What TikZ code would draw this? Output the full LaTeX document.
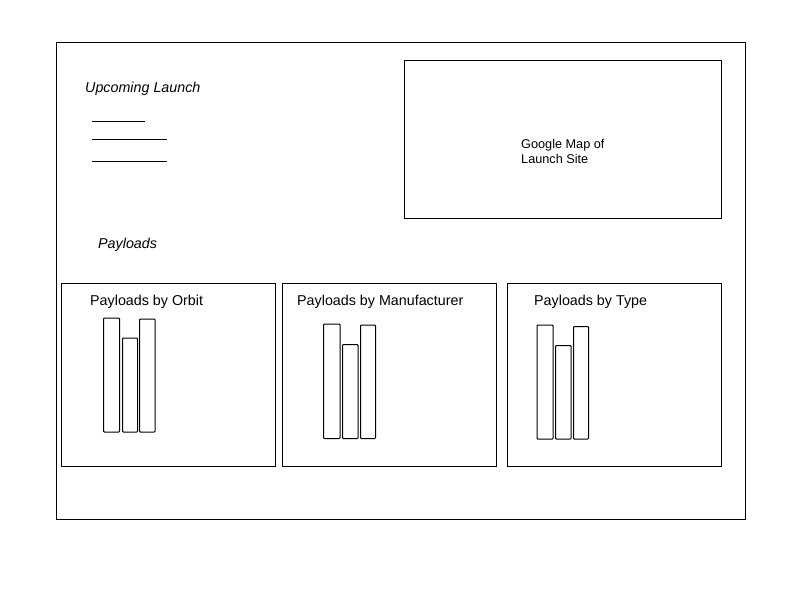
\documentclass[tikz,border=0pt]{standalone}
\usepackage{fontspec}
\setmainfont{Liberation Sans}
\begin{document}
\begin{tikzpicture}[x=1pt,y=-1pt,
  frame/.style={draw=black,line width=1pt},
  bar/.style={draw=black,line width=1pt,rounded corners=0.8pt},
  lbl/.style={anchor=base west,inner sep=0pt,font=\fontsize{14.3}{17}\selectfont},
  ilbl/.style={lbl,font=\fontsize{14.3}{17}\selectfont\itshape},
  maptxt/.style={anchor=base west,inner sep=0pt,align=left,font=\fontsize{12.7}{15}\selectfont}]
\useasboundingbox (0,0) rectangle (800,600);
\fill[white] (0,0) rectangle (800,600);
% outer frame
\draw[frame] (56,42) rectangle (745,519);
% upcoming launch
\node[ilbl] (up) at (85,92) {Upcoming Launch};
\draw[line width=1pt] (92,121) -- (145,121);
\draw[line width=1pt] (92,139) -- (167,139);
\draw[line width=1pt] (92,161) -- (167,161);
% map
\draw[frame] (404,60) rectangle (721,218);
\node[maptxt] (map1) at (521,148) {Google Map of};
\node[maptxt] (map2) at (521,163) {Launch Site};
% payloads
\node[ilbl] (pay) at (98,248) {Payloads};
% panels
\draw[frame] (61,283) rectangle (275,466);
\draw[frame] (282,283) rectangle (496,466);
\draw[frame] (507,283) rectangle (721,466);
\node[lbl] (t1) at (90,305) {Payloads by Orbit};
\node[lbl] (t2) at (297,305) {Payloads by Manufacturer};
\node[lbl] (t3) at (534,305) {Payloads by Type};
% bars panel 1
\draw[bar] (103.5,318) rectangle (119.5,432);
\draw[bar] (122.5,338) rectangle (137.5,432);
\draw[bar] (139.5,319) rectangle (155,432);
% bars panel 2
\draw[bar] (323.5,324) rectangle (340,438.5);
\draw[bar] (342.5,344.5) rectangle (358,438.5);
\draw[bar] (360.5,325) rectangle (375.5,438.5);
% bars panel 3
\draw[bar] (537,325) rectangle (553,439);
\draw[bar] (555.5,345.5) rectangle (571,439);
\draw[bar] (573.5,326.5) rectangle (588.5,439);
\end{tikzpicture}
\end{document}
